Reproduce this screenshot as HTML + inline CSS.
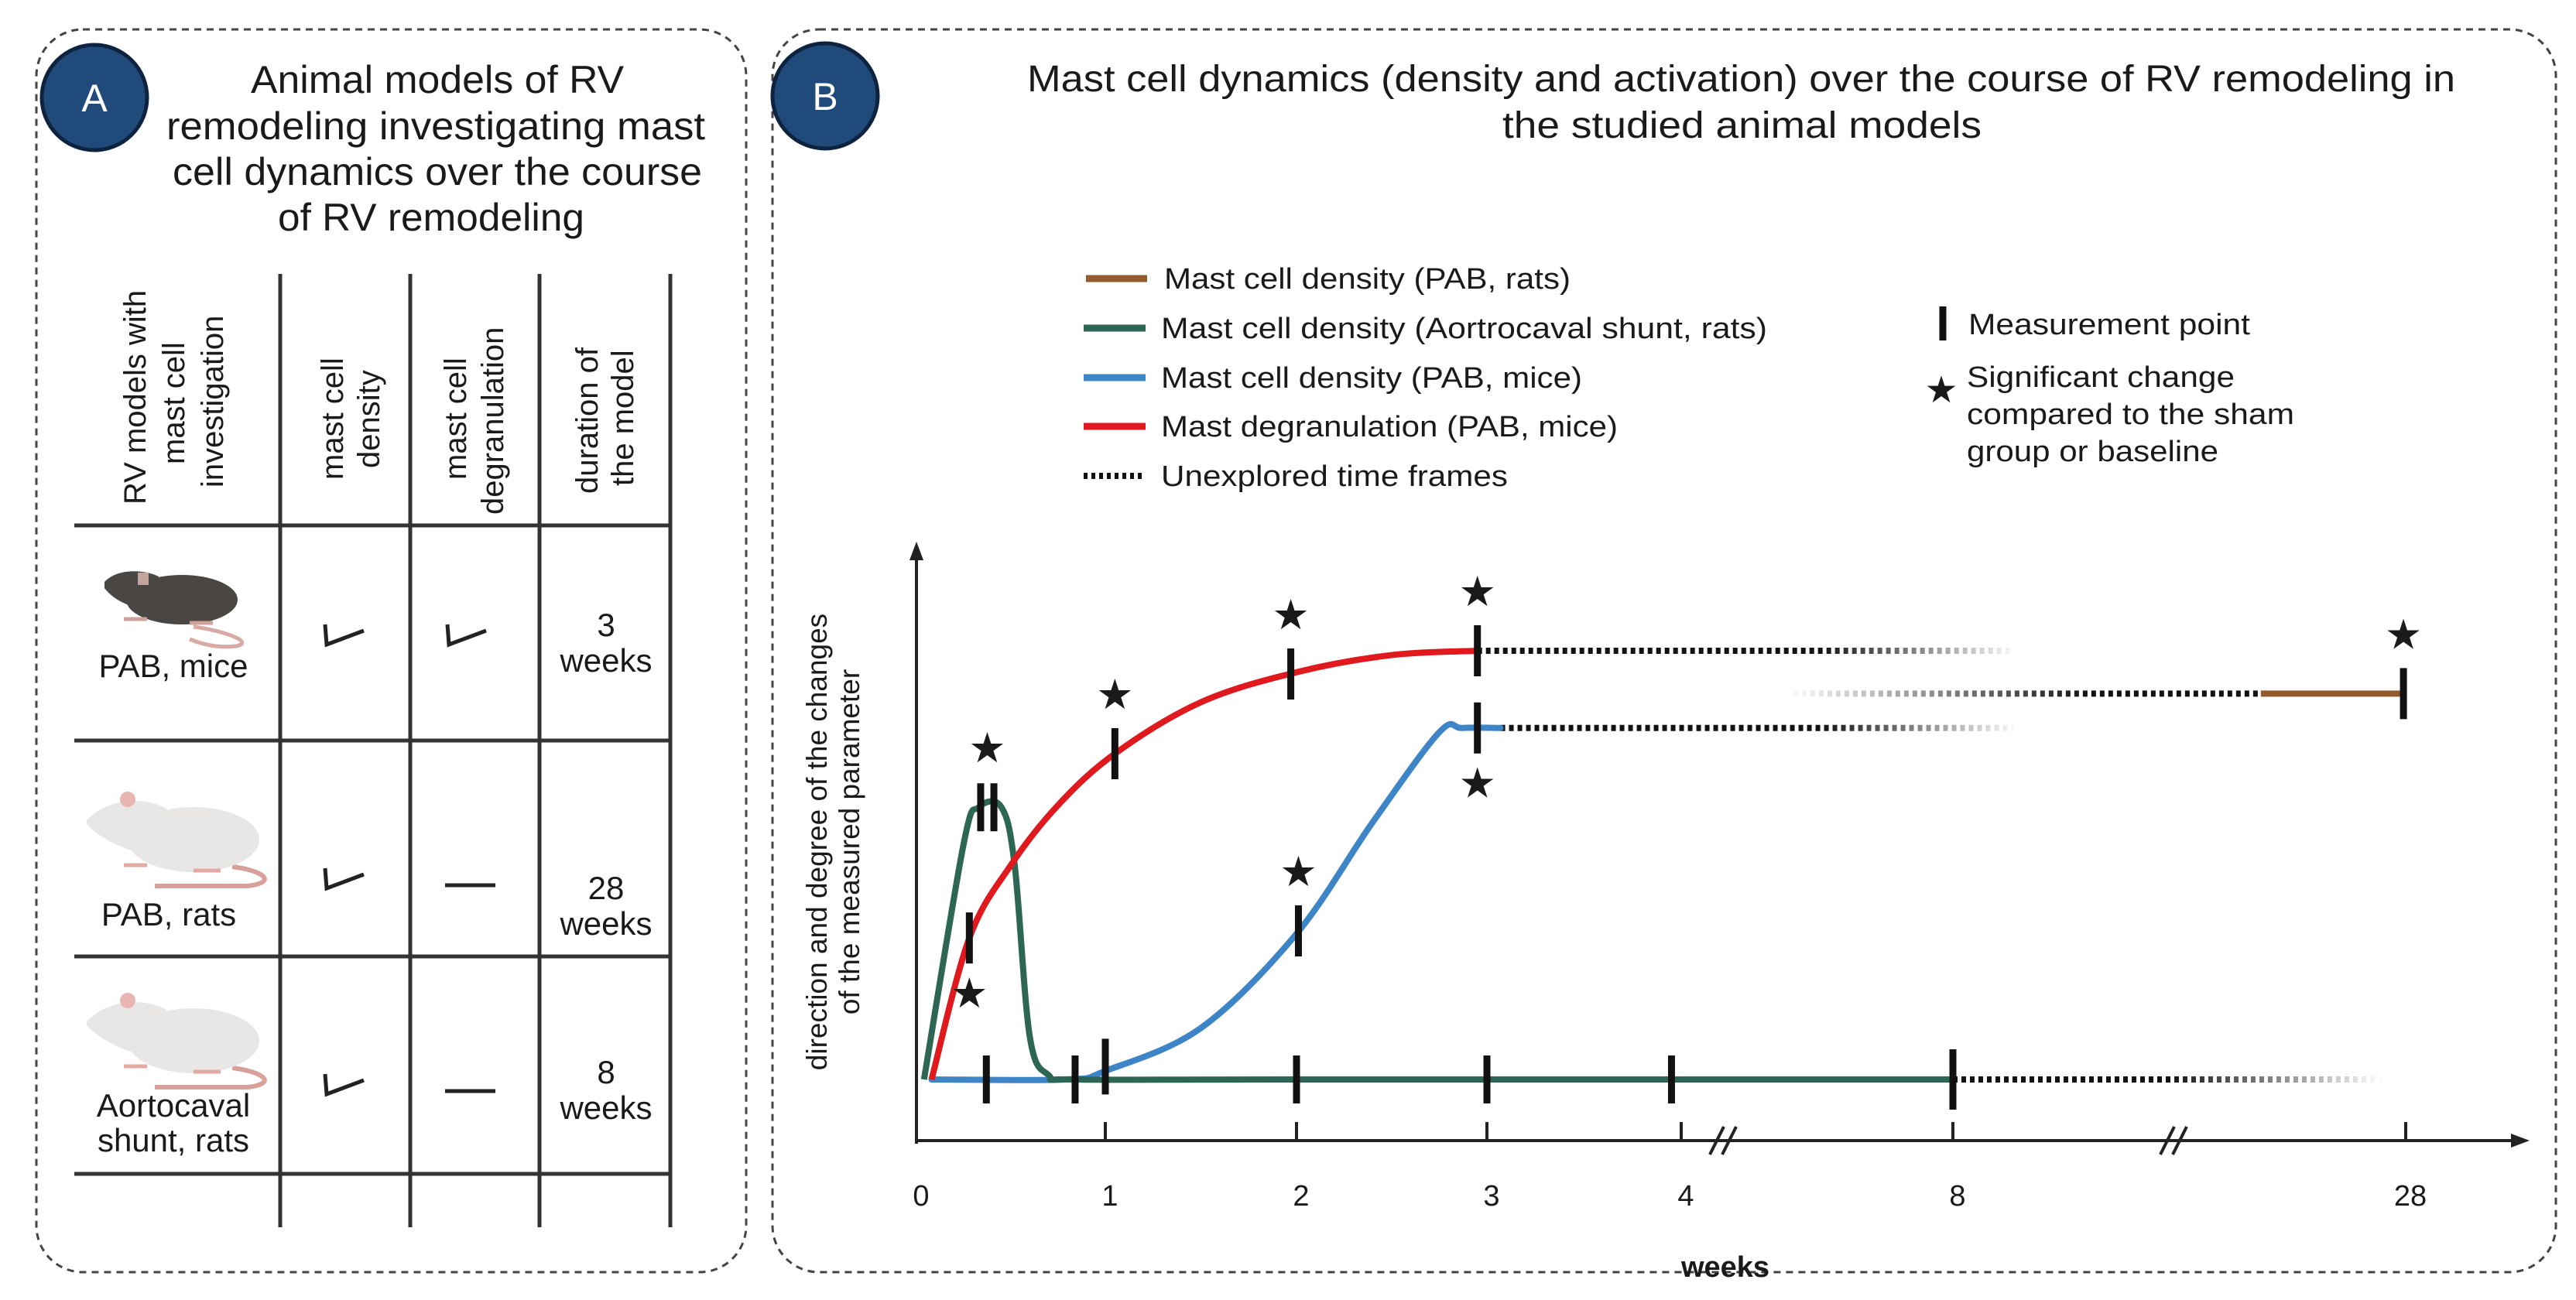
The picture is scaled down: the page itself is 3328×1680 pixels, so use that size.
<!DOCTYPE html>
<html><head><meta charset="utf-8"><style>
html,body{margin:0;padding:0;background:#fff;}
svg{display:block;}
text{font-family:"Liberation Sans",sans-serif;fill:#1a1a1a;}
.n{font-family:"Liberation Sans Narrow","Liberation Sans",sans-serif;}
</style></head><body>
<svg id="fig" width="3328" height="1680" viewBox="0 0 3328 1680" xmlns="http://www.w3.org/2000/svg">
<defs>
<linearGradient id="fadeR" gradientUnits="userSpaceOnUse" x1="2350" y1="0" x2="2610" y2="0"><stop offset="0" stop-color="#111" stop-opacity="1"/><stop offset="1" stop-color="#111" stop-opacity="0"/></linearGradient>
<linearGradient id="fadeG" gradientUnits="userSpaceOnUse" x1="2800" y1="0" x2="3080" y2="0"><stop offset="0" stop-color="#111" stop-opacity="1"/><stop offset="1" stop-color="#111" stop-opacity="0"/></linearGradient>
<linearGradient id="fadeIn" gradientUnits="userSpaceOnUse" x1="2310" y1="0" x2="2700" y2="0"><stop offset="0" stop-color="#111" stop-opacity="0"/><stop offset="1" stop-color="#111" stop-opacity="1"/></linearGradient>
</defs>

<!-- Panel A -->
<g>
<rect x="47" y="38" width="917" height="1606" rx="60" fill="none" stroke="#444" stroke-width="3" stroke-dasharray="9 7"/>
<circle cx="122" cy="126" r="68" fill="#1f4a7a" stroke="#0d2340" stroke-width="5"/>
<text x="122" y="144" font-size="50" text-anchor="middle" style="fill:#fff">A</text>
<g class="n" font-size="50">
<text class="n" x="324" y="120" textLength="482" lengthAdjust="spacingAndGlyphs">Animal models of RV</text>
<text class="n" x="215" y="180" textLength="696" lengthAdjust="spacingAndGlyphs">remodeling investigating mast</text>
<text class="n" x="223" y="239" textLength="684" lengthAdjust="spacingAndGlyphs">cell dynamics over the course</text>
<text class="n" x="359" y="298" textLength="396" lengthAdjust="spacingAndGlyphs">of RV remodeling</text>
</g>
<g stroke="#333" stroke-width="5">
<line x1="362" y1="354" x2="362" y2="1586"/>
<line x1="530" y1="354" x2="530" y2="1586"/>
<line x1="697" y1="354" x2="697" y2="1586"/>
<line x1="866" y1="354" x2="866" y2="1586"/>
<line x1="96" y1="679" x2="866" y2="679"/>
<line x1="96" y1="957" x2="866" y2="957"/>
<line x1="96" y1="1236" x2="866" y2="1236"/>
<line x1="96" y1="1517" x2="866" y2="1517"/>
</g>
<g class="n" font-size="40">
<text class="n" transform="translate(188,652) rotate(-90)">RV models with</text>
<text class="n" transform="translate(238,600) rotate(-90)">mast cell</text>
<text class="n" transform="translate(288,630) rotate(-90)">investigation</text>
<text class="n" transform="translate(443,620) rotate(-90)">mast cell</text>
<text class="n" transform="translate(490,605) rotate(-90)">density</text>
<text class="n" transform="translate(602,620) rotate(-90)">mast cell</text>
<text class="n" transform="translate(650,665) rotate(-90)">degranulation</text>
<text class="n" transform="translate(772,638) rotate(-90)">duration of</text>
<text class="n" transform="translate(818,628) rotate(-90)">the model</text>
</g>
<g>
<path d="M250,810 C290,815 330,830 305,835 C280,838 260,832 245,826" fill="none" stroke="#d9a9a4" stroke-width="5"/>
<ellipse cx="235" cy="775" rx="72" ry="32" fill="#4a4644"/>
<path d="M135,752 C150,735 185,735 205,745 L215,790 C180,790 150,780 135,760 Z" fill="#4a4644"/>
<rect x="178" y="740" width="14" height="16" fill="#c4a59e"/>
<path d="M160,800 l30,0 M245,805 l30,0" stroke="#cfa29c" stroke-width="5"/>
</g>
<text x="224" y="875" font-size="42" text-anchor="middle">PAB, mice</text>
<g>
<path d="M300,1120 C340,1125 360,1140 320,1145 L200,1145" fill="none" stroke="#d9a09a" stroke-width="6"/>
<ellipse cx="250" cy="1085" rx="85" ry="42" fill="#e9e7e6"/>
<path d="M112,1060 C140,1030 190,1030 215,1045 L220,1110 C170,1105 130,1085 112,1065 Z" fill="#e9e7e6"/>
<circle cx="165" cy="1033" r="10" fill="#e8b5b0"/>
<path d="M160,1118 l30,0 M250,1125 l35,0" stroke="#e3aaa4" stroke-width="5"/>
</g>
<text x="218" y="1196" font-size="42" text-anchor="middle">PAB, rats</text>
<g>
<path d="M300,1380 C340,1385 360,1400 320,1405 L200,1405" fill="none" stroke="#d9a09a" stroke-width="6"/>
<ellipse cx="250" cy="1345" rx="85" ry="42" fill="#e9e7e6"/>
<path d="M112,1320 C140,1290 190,1290 215,1305 L220,1370 C170,1365 130,1345 112,1325 Z" fill="#e9e7e6"/>
<circle cx="165" cy="1293" r="10" fill="#e8b5b0"/>
<path d="M160,1378 l30,0 M250,1385 l35,0" stroke="#e3aaa4" stroke-width="5"/>
</g>
<text x="224" y="1443" font-size="42" text-anchor="middle">Aortocaval</text>
<text x="224" y="1488" font-size="42" text-anchor="middle">shunt, rats</text>
<g fill="none" stroke="#222" stroke-width="5">
<path d="M420,807 L422,833 L470,815"/>
<path d="M578,807 L580,833 L628,815"/>
<path d="M420,1122 L422,1148 L470,1130"/>
<path d="M420,1388 L422,1414 L470,1396"/>
</g>
<g stroke="#222" stroke-width="5">
<line x1="575" y1="1144" x2="640" y2="1144"/>
<line x1="575" y1="1410" x2="640" y2="1410"/>
</g>
<g font-size="42" text-anchor="middle">
<text x="783" y="822">3</text><text x="783" y="868">weeks</text>
<text x="783" y="1162">28</text><text x="783" y="1208">weeks</text>
<text x="783" y="1400">8</text><text x="783" y="1446">weeks</text>
</g>
</g>

<!-- Panel B -->
<g>
<rect x="998" y="38" width="2304" height="1606" rx="60" fill="none" stroke="#444" stroke-width="3" stroke-dasharray="9 7"/>
<circle cx="1066" cy="124" r="68" fill="#1f4a7a" stroke="#0d2340" stroke-width="5"/>
<text x="1066" y="142" font-size="50" text-anchor="middle" style="fill:#fff">B</text>
<g class="n" font-size="48">
<text class="n" x="1327" y="118" textLength="1845" lengthAdjust="spacingAndGlyphs">Mast cell dynamics (density and activation) over the course of RV remodeling in</text>
<text class="n" x="1941" y="178" textLength="619" lengthAdjust="spacingAndGlyphs">the studied animal models</text>
</g>
<g>
<g><line x1="1403" y1="360" x2="1482" y2="360" stroke="#935a2e" stroke-width="9"/><text class="n" x="1504" y="373" font-size="38" textLength="525" lengthAdjust="spacingAndGlyphs">Mast cell density (PAB, rats)</text></g>
<g><line x1="1400" y1="424" x2="1480" y2="424" stroke="#2e6655" stroke-width="9"/><text class="n" x="1500" y="437" font-size="38" textLength="783" lengthAdjust="spacingAndGlyphs">Mast cell density (Aortrocaval shunt, rats)</text></g>
<g><line x1="1400" y1="488" x2="1480" y2="488" stroke="#3d85c6" stroke-width="9"/><text class="n" x="1500" y="501" font-size="38" textLength="544" lengthAdjust="spacingAndGlyphs">Mast cell density (PAB, mice)</text></g>
<g><line x1="1400" y1="551" x2="1480" y2="551" stroke="#e0191e" stroke-width="9"/><text class="n" x="1500" y="564" font-size="38" textLength="590" lengthAdjust="spacingAndGlyphs">Mast degranulation (PAB, mice)</text></g>
<g><line x1="1400" y1="615" x2="1480" y2="615" stroke="#111" stroke-width="8" stroke-dasharray="5 5"/><text class="n" x="1500" y="628" font-size="38" textLength="448" lengthAdjust="spacingAndGlyphs">Unexplored time frames</text></g>
<g><line x1="2510" y1="396" x2="2510" y2="440" stroke="#111" stroke-width="9"/><text class="n" x="2543" y="432" font-size="38" textLength="364" lengthAdjust="spacingAndGlyphs">Measurement point</text></g>
<g><text x="2508" y="520" font-size="48" text-anchor="middle">★</text>
<text class="n" x="2541" y="500" font-size="38" textLength="346" lengthAdjust="spacingAndGlyphs">Significant change</text>
<text class="n" x="2541" y="548" font-size="38" textLength="423" lengthAdjust="spacingAndGlyphs">compared to the sham</text>
<text class="n" x="2541" y="596" font-size="38" textLength="325" lengthAdjust="spacingAndGlyphs">group or baseline</text></g>
</g>
<g font-size="37">
<text transform="translate(1068,1088) rotate(-90)" text-anchor="middle">direction and degree of the changes</text>
<text transform="translate(1110,1088) rotate(-90)" text-anchor="middle">of the measured parameter</text>
</g>
<g id="axes"></g>
<g id="plot"></g>
<text x="2229" y="1650" font-size="38" font-weight="bold" text-anchor="middle">weeks</text>
</g>
</svg>
<script>
// ---- data ----
const tickWeeks = [0, 1, 2, 3, 4, 8, 28];
const tickLabels = ["0", "1", "2", "3", "4", "8", "28"];
const redX = [0.08, 0.28, 0.5, 0.75, 1.05, 1.5, 2.0, 2.5, 2.95];
const redY = [0, 0.33, 0.5, 0.64, 0.76, 0.88, 0.95, 0.99, 1.0];
const blueX = [0.08, 0.8, 1.0, 1.5, 2.0, 2.4, 2.75, 2.87, 3.07];
const blueY = [0, 0, 0.02, 0.12, 0.34, 0.6, 0.81, 0.82, 0.82];
const greenX = [0.04, 0.25, 0.33, 0.45, 0.52, 0.6, 0.7, 0.85, 2, 8];
const greenY = [0, 0.55, 0.635, 0.635, 0.5, 0.1, 0.01, 0, 0, 0];
const brownX = [21.6, 27.9];
const brownY = [0.9, 0.9];
const redMeasX = [0.28, 1.05, 1.97, 2.95];
const redStar = ["below", "above", "above", "above"];
const blueMeasX = [2.01, 2.95];
const blueStar = ["above", "below"];
const greenPeakMeasX = [0.34, 0.41];
const greenBaseMeasX = [0.37, 0.84, 2.0, 3.0, 3.95, 8.0];
const blueBaseMeasX = [1.0];
const brownMeasX = [27.9];
const dottedRed = [2.95, 10.7];
const dottedBlue = [3.07, 10.7];
const dottedGreen = [8, 27.0];
const dottedBrown = [5.4, 21.6];

// ---- scales ----
const pxT = [1184, 1428, 1675, 1921, 2172, 2523, 3108];
function X(w) {
  for (let i = 0; i < tickWeeks.length - 1; i++) {
    if (w <= tickWeeks[i + 1] || i === tickWeeks.length - 2) {
      const t = (w - tickWeeks[i]) / (tickWeeks[i + 1] - tickWeeks[i]);
      return pxT[i] + t * (pxT[i + 1] - pxT[i]);
    }
  }
}
function Y(v) { return 1395 - v * 554; }
const NS = "http://www.w3.org/2000/svg";
function mk(tag, attrs, parent) {
  const e = document.createElementNS(NS, tag);
  for (const k in attrs) e.setAttribute(k, attrs[k]);
  parent.appendChild(e);
  return e;
}
const axes = document.getElementById('axes');
const plot = document.getElementById('plot');

const ya = mk('line', {x1: 1184, y1: 1478, x2: 1184, y2: 720, stroke: '#222', 'stroke-width': 4}, axes);


const yar = mk('path', {d: 'M1184,700 L1175,724 L1193,724 Z', fill: '#222'}, axes);


const xa = mk('line', {x1: 1184, y1: 1474, x2: 3250, y2: 1474, stroke: '#222', 'stroke-width': 4}, axes);


const xar = mk('path', {d: 'M3268,1474 L3244,1465 L3244,1483 Z', fill: '#222'}, axes);


tickWeeks.forEach((w, i) => {
  const x = X(w);
  if (i > 0) {
    const t = mk('line', {x1: x, y1: 1450, x2: x, y2: 1474, stroke: '#222', 'stroke-width': 4}, axes);
    
    
  }
  const l = mk('text', {x: x + 6, y: 1558, 'font-size': 38, 'text-anchor': 'middle'}, axes);
  l.textContent = tickLabels[i];
  
  
});
[2229, 2811].forEach(bx => {
  const b = mk('path', {d: `M${bx - 20},1492 L${bx - 2},1456 M${bx - 4},1492 L${bx + 14},1456`, stroke: '#222', 'stroke-width': 4, fill: 'none'}, axes);
  
  
});

function pathFrom(xs, ys) {
  const P = xs.map((x, i) => [X(x), Y(ys[i])]);
  let d = `M${P[0][0]},${P[0][1]}`;
  for (let i = 0; i < P.length - 1; i++) {
    const p0 = P[Math.max(0, i - 1)], p1 = P[i], p2 = P[i + 1], p3 = P[Math.min(P.length - 1, i + 2)];
    const c1 = [p1[0] + (p2[0] - p0[0]) / 6, p1[1] + (p2[1] - p0[1]) / 6];
    const c2 = [p2[0] - (p3[0] - p1[0]) / 6, p2[1] - (p3[1] - p1[1]) / 6];
    d += ` C${c1[0]},${c1[1]} ${c2[0]},${c2[1]} ${p2[0]},${p2[1]}`;
  }
  return d;
}
function dotted(range, v, stroke, name) {
  const e = mk('line', {x1: X(range[0]), y1: Y(v), x2: X(range[1]), y2: Y(v), stroke: stroke, 'stroke-width': 8, 'stroke-dasharray': '6 5'}, plot);
  
  
}
dotted(dottedRed, redY[redY.length - 1], 'url(#fadeR)', 'dotted-red');
dotted(dottedBlue, blueY[blueY.length - 1], 'url(#fadeR)', 'dotted-blue');
dotted(dottedGreen, greenY[greenY.length - 1], 'url(#fadeG)', 'dotted-green');
dotted(dottedBrown, brownY[0], 'url(#fadeIn)', 'dotted-brown');

const bl = mk('path', {d: pathFrom(blueX, blueY), fill: 'none', stroke: '#3d85c6', 'stroke-width': 8, 'stroke-linecap': 'round'}, plot);


const gr = mk('path', {d: pathFrom(greenX, greenY), fill: 'none', stroke: '#2e6655', 'stroke-width': 8}, plot);


const rd = mk('path', {d: pathFrom(redX, redY), fill: 'none', stroke: '#e0191e', 'stroke-width': 8}, plot);


const br = mk('line', {x1: X(brownX[0]), y1: Y(brownY[0]), x2: X(brownX[1]), y2: Y(brownY[1]), stroke: '#935a2e', 'stroke-width': 8}, plot);



function valAt(xs, ys, x) {
  for (let i = 0; i < xs.length - 1; i++) if (x <= xs[i + 1]) { const t = (x - xs[i]) / (xs[i + 1] - xs[i]); return ys[i] + t * (ys[i + 1] - ys[i]); }
  return ys[ys.length - 1];
}
function bar(x, v, h, name) {
  const e = mk('line', {x1: X(x), y1: Y(v) - h / 2, x2: X(x), y2: Y(v) + h / 2, stroke: '#111', 'stroke-width': 9}, plot);
  
  
}
function star(x, v, pos, name) {
  const y = pos === 'above' ? Y(v) - 58 : Y(v) + 90;
  const s = mk('text', {x: X(x), y: y, 'font-size': 54, 'text-anchor': 'middle'}, plot);
  s.textContent = '★';
  
  
}
redMeasX.forEach((x, i) => { const v = valAt(redX, redY, x); bar(x, v, 66, 'measurement-red'); star(x, v, redStar[i], 'star-red'); });
blueMeasX.forEach((x, i) => { const v = valAt(blueX, blueY, x); bar(x, v, 66, 'measurement-blue'); star(x, v, blueStar[i], 'star-blue'); });
greenPeakMeasX.forEach(x => bar(x, greenY[2], 62, 'measurement-green-peak'));
star((greenPeakMeasX[0] + greenPeakMeasX[1]) / 2, greenY[2], 'above', 'star-green');
greenBaseMeasX.forEach((x, i) => bar(x, 0, i === greenBaseMeasX.length - 1 ? 78 : 62, 'measurement-green'));
blueBaseMeasX.forEach(x => bar(x, 0.03, 72, 'measurement-blue-base'));
brownMeasX.forEach(x => { bar(x, brownY[0], 66, 'measurement-brown'); star(x, brownY[0], 'above', 'star-brown'); });
</script>
</body></html>
